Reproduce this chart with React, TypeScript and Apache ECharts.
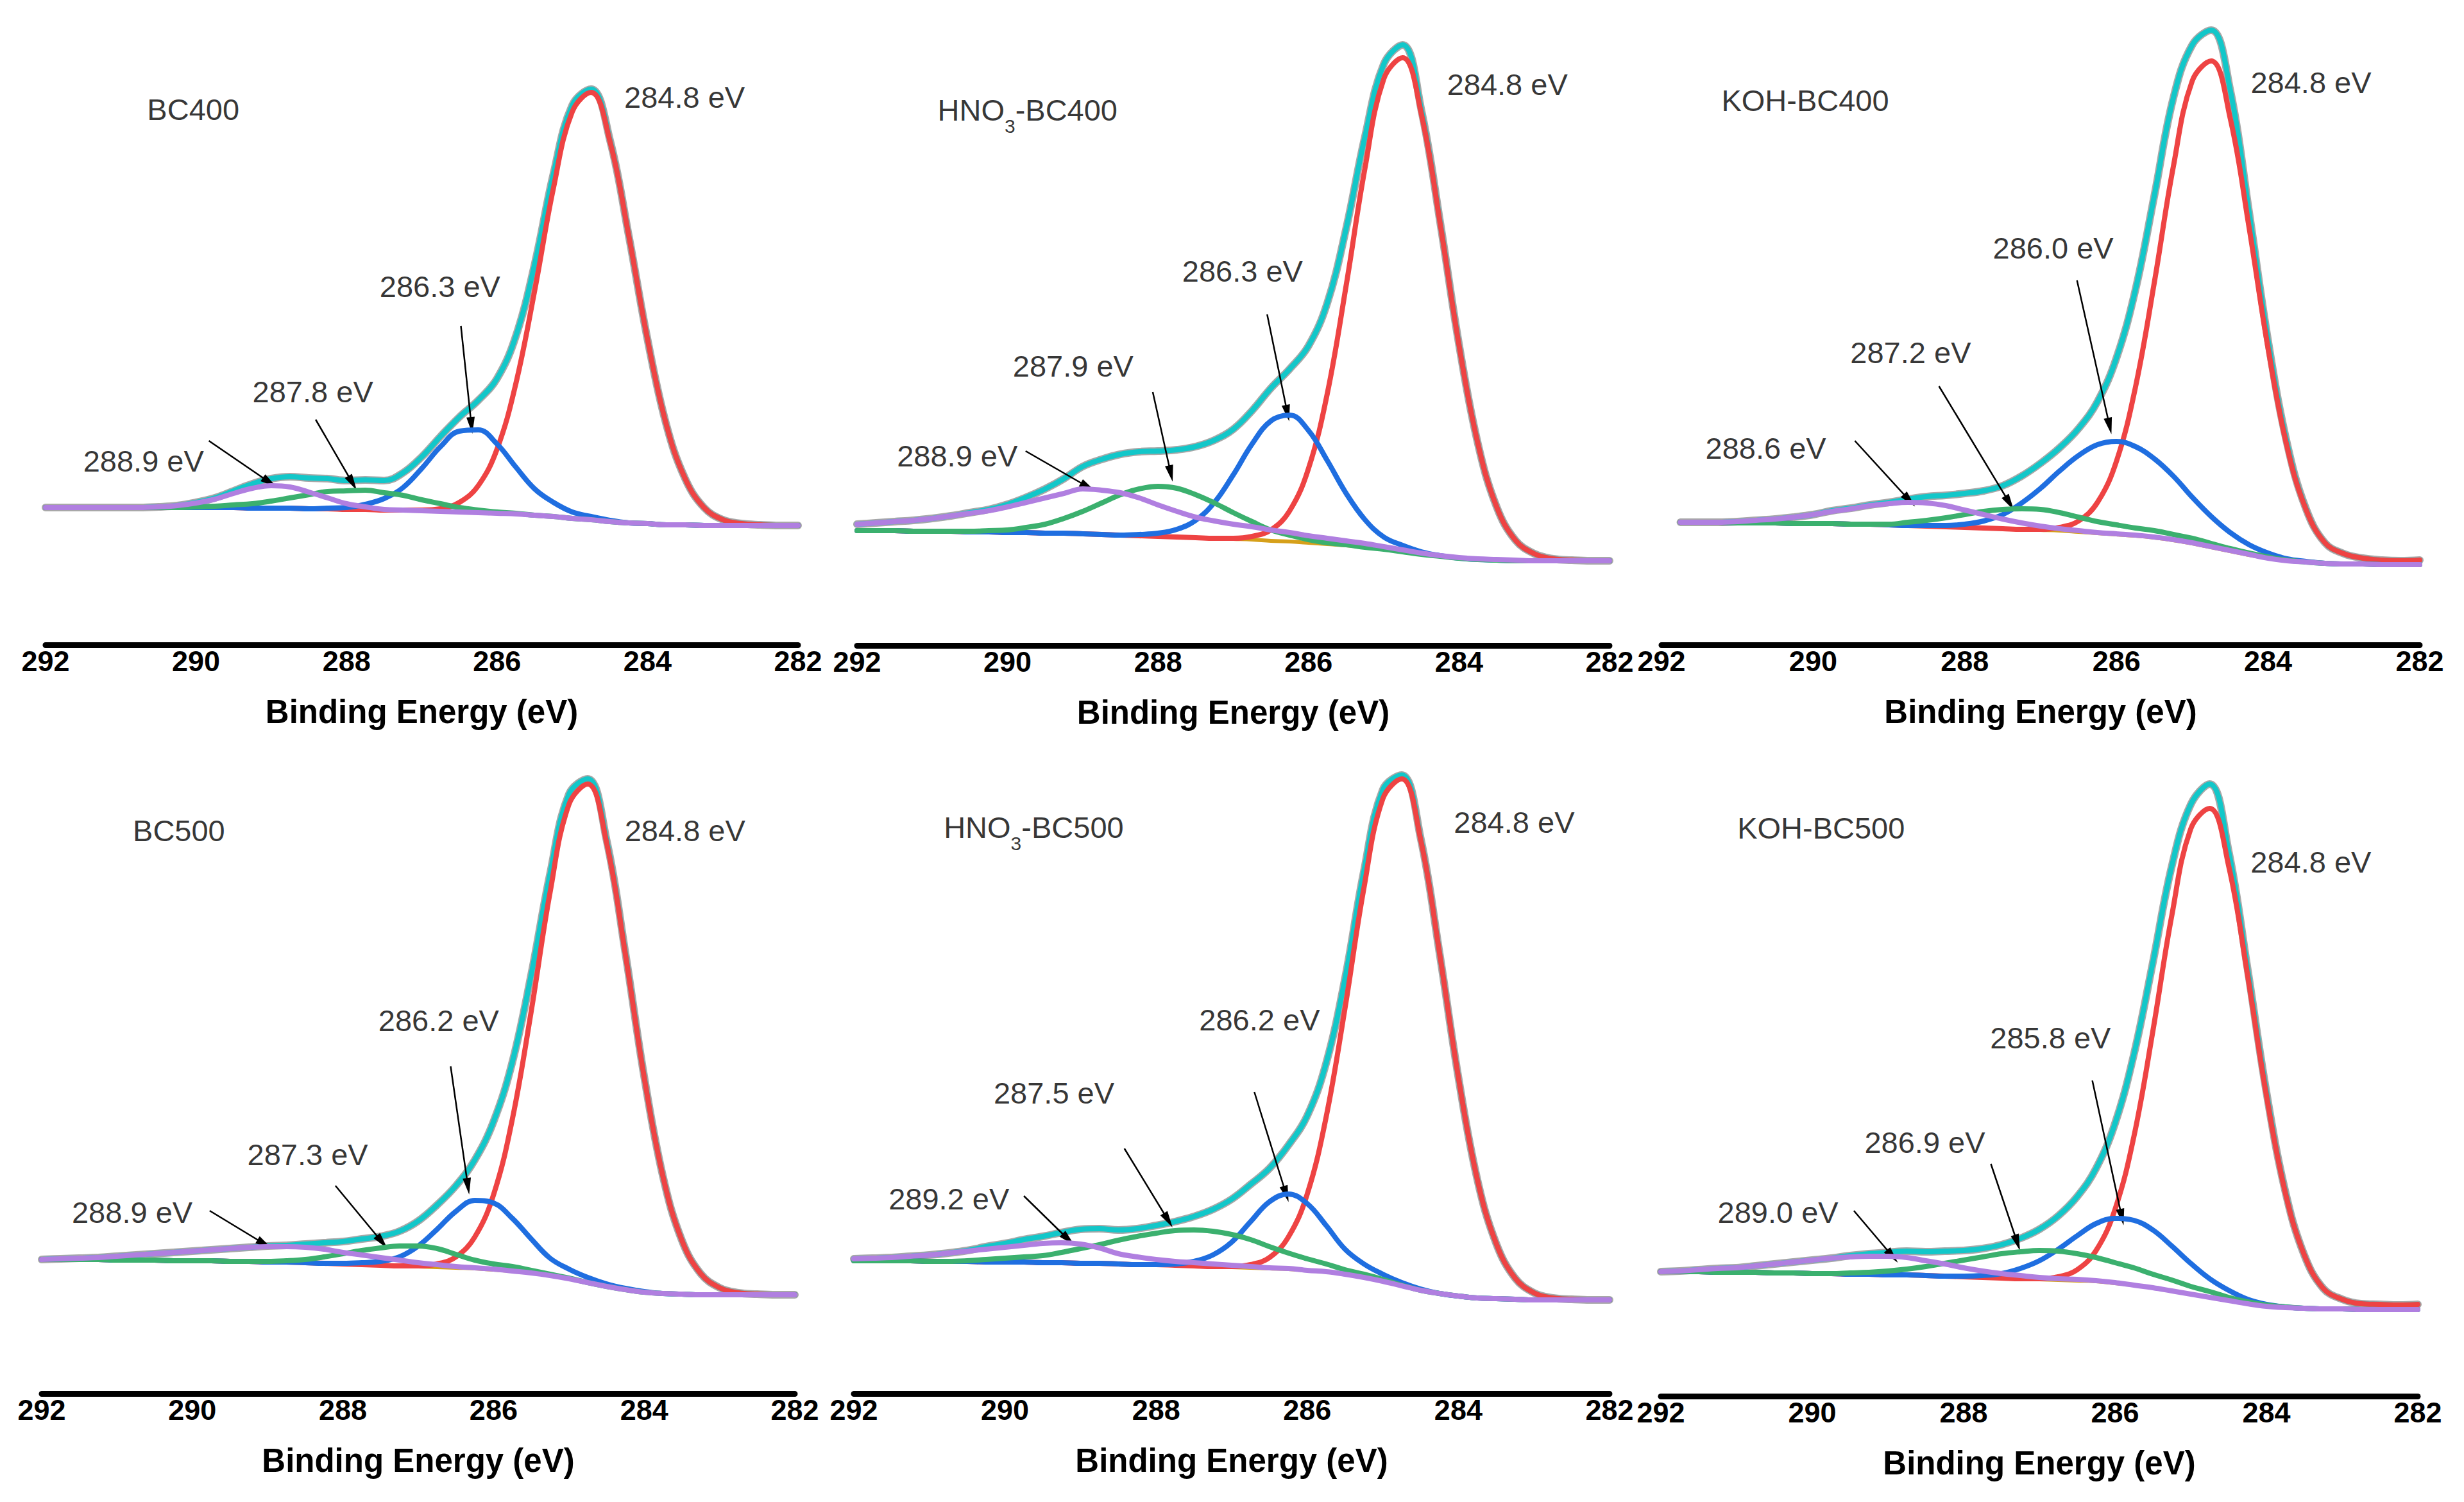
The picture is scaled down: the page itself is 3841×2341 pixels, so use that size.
import React, { useEffect, useRef } from "react";
import * as echarts from "echarts";

// Binding-energy grid (eV), shared by every panel
const energy = [292, 291.75, 291.5, 291.25, 291, 290.75, 290.5, 290.25, 290, 289.75, 289.5, 289.25, 289, 288.75, 288.5, 288.25, 288, 287.75, 287.5, 287.25, 287, 286.75, 286.5, 286.25, 286, 285.75, 285.5, 285.25, 285, 284.75, 284.5, 284.25, 284, 283.75, 283.5, 283.25, 283, 282.75, 282.5, 282.25, 282];
const tickValues = [292, 290, 288, 286, 284, 282];

// ---------- BC400 ----------
const bc400Baseline = [21.4, 21.4, 21.4, 21.4, 21.4, 21.4, 21.4, 21.4, 21.4, 21.4, 21.4, 21.3, 21.3, 21.3, 21.2, 21.2, 21.1, 21.1, 21.0, 21.0, 20.9, 20.8, 20.7, 20.6, 20.5, 20.4, 20.2, 20.0, 19.7, 19.5, 19.2, 19.0, 18.9, 18.7, 18.7, 18.6, 18.6, 18.6, 18.6, 18.6, 18.6];
const bc400Peak1 = [21.4, 21.4, 21.4, 21.4, 21.4, 21.4, 21.4, 21.4, 21.4, 21.4, 21.4, 21.3, 21.3, 21.3, 21.2, 21.2, 21.1, 21.1, 21.0, 21.0, 21.0, 21.2, 22.2, 24.8, 30.5, 40.7, 55.2, 71.2, 83.1, 86.1, 78.5, 63.8, 47.6, 34.3, 25.9, 21.4, 19.5, 18.9, 18.7, 18.6, 18.6];
const bc400Peak2 = [21.4, 21.4, 21.4, 21.4, 21.4, 21.4, 21.4, 21.4, 21.4, 21.4, 21.4, 21.3, 21.3, 21.3, 21.2, 21.3, 21.4, 21.9, 22.8, 24.5, 27.5, 30.9, 33.3, 33.5, 31.3, 27.7, 24.3, 22.2, 20.7, 20.0, 19.4, 19.0, 18.9, 18.7, 18.7, 18.6, 18.6, 18.6, 18.6, 18.6, 18.6];
const bc400Peak3 = [21.4, 21.4, 21.4, 21.4, 21.4, 21.4, 21.4, 21.4, 21.5, 21.6, 21.8, 22.0, 22.4, 22.9, 23.4, 23.9, 24.0, 24.1, 23.7, 23.3, 22.6, 22.0, 21.4, 21.0, 20.7, 20.5, 20.2, 20.0, 19.7, 19.5, 19.2, 19.0, 18.9, 18.7, 18.7, 18.6, 18.6, 18.6, 18.6, 18.6, 18.6];
const bc400Peak4 = [21.4, 21.4, 21.4, 21.4, 21.4, 21.4, 21.5, 21.7, 22.1, 22.7, 23.6, 24.4, 24.8, 24.6, 23.8, 22.9, 22.0, 21.5, 21.1, 21.0, 20.9, 20.8, 20.7, 20.6, 20.5, 20.4, 20.2, 20.0, 19.7, 19.5, 19.2, 19.0, 18.9, 18.7, 18.7, 18.6, 18.6, 18.6, 18.6, 18.6, 18.6];
const bc400Envelope = [21.4, 21.4, 21.4, 21.4, 21.4, 21.4, 21.5, 21.7, 22.2, 22.9, 24.0, 25.1, 25.9, 26.2, 26.0, 25.9, 25.6, 25.7, 25.6, 26.8, 29.3, 32.5, 35.5, 38.1, 41.5, 48.1, 59.3, 73.4, 84.1, 86.6, 78.7, 63.8, 47.6, 34.3, 25.9, 21.4, 19.5, 18.9, 18.7, 18.6, 18.6];
const bc400Labels = ["284.8 eV", "286.3 eV", "287.8 eV", "288.9 eV"];

// ---------- HNO3-BC400 ----------
const hno400Baseline = [17.9, 17.9, 17.9, 17.8, 17.8, 17.8, 17.7, 17.7, 17.6, 17.6, 17.5, 17.5, 17.4, 17.3, 17.2, 17.1, 17.0, 16.9, 16.8, 16.7, 16.6, 16.5, 16.3, 16.2, 16.0, 15.8, 15.6, 15.3, 15.0, 14.6, 14.2, 13.9, 13.6, 13.4, 13.3, 13.2, 13.2, 13.2, 13.2, 13.2, 13.2];
const hno400Peak1 = [17.9, 17.9, 17.9, 17.8, 17.8, 17.8, 17.7, 17.7, 17.6, 17.6, 17.5, 17.5, 17.4, 17.3, 17.2, 17.1, 17.0, 16.9, 16.8, 16.7, 16.7, 17.0, 18.0, 21.0, 27.6, 39.3, 56.1, 74.4, 88.3, 91.6, 82.8, 65.7, 46.8, 31.5, 21.6, 16.4, 14.3, 13.5, 13.3, 13.2, 13.2];
const hno400Peak2 = [17.9, 17.9, 17.9, 17.8, 17.8, 17.8, 17.7, 17.7, 17.6, 17.6, 17.5, 17.5, 17.4, 17.3, 17.2, 17.3, 17.5, 18.1, 19.5, 22.3, 26.6, 31.4, 35.0, 35.9, 33.5, 28.8, 23.7, 19.6, 16.9, 15.6, 14.6, 14.0, 13.6, 13.4, 13.3, 13.2, 13.2, 13.2, 13.2, 13.2, 13.2];
const hno400Peak3 = [17.9, 17.9, 17.9, 17.8, 17.8, 17.8, 17.8, 17.9, 18.0, 18.4, 18.9, 19.8, 20.9, 22.2, 23.5, 24.4, 24.8, 24.5, 23.5, 22.2, 20.7, 19.3, 18.0, 17.2, 16.5, 16.0, 15.7, 15.3, 15.0, 14.6, 14.2, 13.9, 13.6, 13.4, 13.3, 13.2, 13.2, 13.2, 13.2, 13.2, 13.2];
const hno400Peak4 = [18.9, 19.1, 19.3, 19.5, 19.8, 20.2, 20.6, 21.0, 21.6, 22.3, 23.0, 23.7, 24.4, 24.2, 23.8, 23.0, 21.9, 20.9, 20.0, 19.4, 18.9, 18.5, 18.0, 17.6, 17.1, 16.7, 16.3, 15.9, 15.4, 14.9, 14.4, 14.0, 13.7, 13.5, 13.4, 13.3, 13.2, 13.2, 13.2, 13.2, 13.2];
const hno400Envelope = [18.9, 19.1, 19.3, 19.5, 19.8, 20.2, 20.7, 21.2, 22.0, 23.1, 24.4, 26.0, 27.9, 29.0, 29.8, 30.2, 30.3, 30.5, 31.0, 32.0, 33.7, 36.6, 40.1, 43.1, 46.7, 53.4, 65.0, 79.3, 90.6, 93.6, 83.4, 65.9, 46.9, 31.5, 21.6, 16.4, 14.3, 13.5, 13.3, 13.2, 13.2];
const hno400Labels = ["284.8 eV", "286.3 eV", "287.9 eV", "288.9 eV"];

// ---------- KOH-BC400 (scan starts at 291.75 eV) ----------
const koh400Baseline = [null, 19.1, 19.1, 19.1, 19.0, 19.0, 19.0, 18.9, 18.9, 18.9, 18.8, 18.8, 18.7, 18.6, 18.5, 18.4, 18.3, 18.2, 18.1, 18.0, 17.9, 17.8, 17.6, 17.4, 17.2, 17.0, 16.7, 16.3, 15.8, 15.2, 14.6, 14.0, 13.5, 13.1, 12.9, 12.7, 12.6, 12.6, 12.5, 12.5, 12.5];
const koh400Peak1 = [null, 19.1, 19.1, 19.1, 19.0, 19.0, 19.0, 18.9, 18.9, 18.9, 18.8, 18.8, 18.7, 18.6, 18.5, 18.4, 18.3, 18.2, 18.1, 18.0, 18.0, 18.3, 19.3, 22.2, 28.6, 40.1, 56.5, 74.5, 87.9, 91.0, 82.1, 65.0, 46.2, 30.9, 21.1, 15.9, 14.2, 13.5, 13.2, 13.1, 13.2];
const koh400Peak2 = [null, 19.1, 19.1, 19.1, 19.0, 19.0, 19.0, 18.9, 18.9, 18.9, 18.8, 18.8, 18.7, 18.6, 18.6, 18.6, 18.8, 19.3, 20.3, 22.1, 24.4, 27.1, 29.5, 31.2, 31.7, 30.9, 29.0, 26.3, 23.0, 20.0, 17.5, 15.6, 14.3, 13.4, 13.0, 12.7, 12.6, 12.6, 12.5, 12.5, 12.5];
const koh400Peak3 = [null, 19.1, 19.1, 19.1, 19.0, 19.0, 19.0, 18.9, 18.9, 18.9, 18.8, 18.8, 18.8, 19.1, 19.4, 19.8, 20.3, 20.8, 21.1, 21.2, 21.1, 20.6, 19.9, 19.2, 18.7, 18.2, 17.8, 17.2, 16.6, 15.8, 15.0, 14.3, 13.7, 13.2, 12.9, 12.7, 12.6, 12.6, 12.5, 12.5, 12.5];
const koh400Peak4 = [null, 19.1, 19.1, 19.1, 19.2, 19.4, 19.6, 19.9, 20.3, 20.8, 21.2, 21.7, 22.0, 22.2, 22.1, 21.7, 21.0, 20.3, 19.6, 19.0, 18.5, 18.1, 17.8, 17.5, 17.3, 17.1, 16.8, 16.4, 15.9, 15.3, 14.7, 14.1, 13.5, 13.1, 12.9, 12.7, 12.6, 12.6, 12.5, 12.5, 12.5];
const koh400Envelope = [null, 19.1, 19.1, 19.1, 19.2, 19.4, 19.6, 19.9, 20.3, 20.9, 21.3, 21.8, 22.2, 22.7, 23.1, 23.3, 23.6, 24.0, 24.8, 26.3, 28.3, 30.7, 33.7, 37.9, 44.7, 55.3, 70.0, 85.2, 93.5, 95.8, 86.5, 67.4, 47.4, 31.4, 21.2, 15.9, 14.2, 13.5, 13.2, 13.1, 13.2];
const koh400Labels = ["284.8 eV", "286.0 eV", "287.2 eV", "288.6 eV"];

// ---------- BC500 ----------
const bc500Baseline = [20.9, 20.9, 20.9, 20.9, 20.8, 20.8, 20.8, 20.7, 20.7, 20.7, 20.6, 20.6, 20.5, 20.5, 20.4, 20.3, 20.2, 20.1, 20.0, 19.9, 19.8, 19.7, 19.6, 19.5, 19.3, 19.1, 18.8, 18.4, 17.9, 17.3, 16.7, 16.2, 15.8, 15.6, 15.5, 15.4, 15.4, 15.4, 15.4, 15.4, 15.4];
const bc500Peak1 = [20.9, 20.9, 20.9, 20.9, 20.8, 20.8, 20.8, 20.7, 20.7, 20.7, 20.6, 20.6, 20.5, 20.5, 20.4, 20.3, 20.2, 20.1, 20.0, 19.9, 19.9, 20.2, 21.3, 24.4, 31.0, 42.8, 59.6, 78.1, 91.8, 95.0, 85.9, 68.5, 49.3, 33.8, 23.9, 18.7, 16.5, 15.7, 15.5, 15.4, 15.4];
const bc500Peak2 = [20.9, 20.9, 20.9, 20.9, 20.8, 20.8, 20.8, 20.7, 20.7, 20.7, 20.6, 20.6, 20.5, 20.5, 20.4, 20.3, 20.3, 20.4, 20.6, 21.3, 23.0, 25.6, 28.4, 30.1, 29.7, 27.3, 24.1, 21.1, 19.4, 18.1, 17.1, 16.4, 15.9, 15.6, 15.5, 15.4, 15.4, 15.4, 15.4, 15.4, 15.4];
const bc500Peak3 = [20.9, 20.9, 20.9, 20.9, 20.8, 20.8, 20.8, 20.7, 20.7, 20.7, 20.6, 20.6, 20.6, 20.7, 20.9, 21.3, 21.8, 22.3, 22.7, 23.0, 23.0, 22.6, 21.7, 20.8, 20.2, 19.8, 19.2, 18.6, 18.0, 17.3, 16.7, 16.2, 15.8, 15.6, 15.5, 15.4, 15.4, 15.4, 15.4, 15.4, 15.4];
const bc500Peak4 = [20.9, 21.0, 21.1, 21.2, 21.4, 21.6, 21.8, 22.0, 22.2, 22.4, 22.6, 22.8, 22.9, 22.9, 22.8, 22.5, 22.0, 21.6, 21.2, 20.8, 20.4, 20.1, 19.8, 19.6, 19.4, 19.1, 18.8, 18.4, 17.9, 17.3, 16.7, 16.2, 15.8, 15.6, 15.5, 15.4, 15.4, 15.4, 15.4, 15.4, 15.4];
const bc500Envelope = [20.9, 21.0, 21.1, 21.2, 21.4, 21.6, 21.8, 22.0, 22.2, 22.4, 22.6, 22.8, 23.0, 23.1, 23.3, 23.5, 23.7, 24.1, 24.5, 25.3, 26.9, 29.4, 32.4, 36.4, 42.4, 51.7, 65.3, 81.0, 93.4, 95.8, 86.3, 68.7, 49.4, 33.8, 23.9, 18.7, 16.5, 15.7, 15.5, 15.4, 15.4];
const bc500Labels = ["284.8 eV", "286.2 eV", "287.3 eV", "288.9 eV"];

// ---------- HNO3-BC500 ----------
const hno500Baseline = [20.7, 20.7, 20.7, 20.7, 20.6, 20.6, 20.6, 20.5, 20.5, 20.5, 20.4, 20.4, 20.3, 20.3, 20.2, 20.1, 20.1, 20.0, 19.9, 19.8, 19.7, 19.6, 19.5, 19.4, 19.2, 19.0, 18.6, 18.1, 17.5, 16.8, 16.1, 15.6, 15.2, 14.9, 14.8, 14.7, 14.6, 14.6, 14.6, 14.6, 14.6];
const hno500Peak1 = [20.7, 20.7, 20.7, 20.7, 20.6, 20.6, 20.6, 20.5, 20.5, 20.5, 20.4, 20.4, 20.3, 20.3, 20.2, 20.1, 20.1, 20.0, 19.9, 19.8, 19.8, 20.1, 21.2, 24.4, 31.1, 43.1, 60.1, 78.8, 92.7, 95.8, 86.4, 68.7, 49.3, 33.4, 23.4, 18.0, 15.7, 14.9, 14.7, 14.6, 14.6];
const hno500Peak2 = [20.7, 20.7, 20.7, 20.7, 20.6, 20.6, 20.6, 20.5, 20.5, 20.5, 20.4, 20.4, 20.3, 20.3, 20.2, 20.1, 20.1, 20.2, 20.6, 21.6, 23.6, 26.8, 29.9, 31.1, 29.6, 26.2, 22.5, 20.2, 18.6, 17.3, 16.3, 15.6, 15.2, 14.9, 14.8, 14.7, 14.6, 14.6, 14.6, 14.6, 14.6];
const hno500Peak3 = [20.7, 20.7, 20.7, 20.7, 20.6, 20.6, 20.7, 20.9, 21.1, 21.3, 21.5, 22.0, 22.6, 23.2, 23.9, 24.5, 25.0, 25.4, 25.5, 25.3, 24.8, 24.0, 22.9, 21.9, 21.0, 20.2, 19.3, 18.6, 17.8, 16.9, 16.1, 15.6, 15.2, 14.9, 14.8, 14.7, 14.6, 14.6, 14.6, 14.6, 14.6];
const hno500Peak4 = [21.0, 21.1, 21.2, 21.4, 21.6, 21.9, 22.2, 22.5, 22.8, 23.1, 23.4, 23.5, 23.3, 22.7, 21.8, 21.3, 20.9, 20.6, 20.4, 20.2, 20.0, 19.8, 19.6, 19.5, 19.2, 19.0, 18.6, 18.1, 17.5, 16.8, 16.1, 15.6, 15.2, 14.9, 14.8, 14.7, 14.6, 14.6, 14.6, 14.6, 14.6];
const hno500Envelope = [21.0, 21.1, 21.2, 21.4, 21.6, 21.9, 22.3, 22.9, 23.4, 24.0, 24.5, 25.1, 25.6, 25.7, 25.5, 25.7, 26.2, 26.8, 27.6, 28.7, 30.3, 32.6, 35.1, 38.7, 43.3, 51.5, 64.7, 81.4, 94.1, 96.4, 86.6, 68.7, 49.3, 33.4, 23.4, 18.0, 15.7, 14.9, 14.7, 14.6, 14.6];
const hno500Labels = ["284.8 eV", "286.2 eV", "287.5 eV", "289.2 eV"];

// ---------- KOH-BC500 ----------
const koh500Baseline = [19.4, 19.4, 19.4, 19.3, 19.3, 19.3, 19.2, 19.2, 19.1, 19.1, 19.0, 19.0, 18.9, 18.9, 18.8, 18.7, 18.6, 18.5, 18.4, 18.3, 18.2, 18.1, 18.0, 17.9, 17.6, 17.3, 16.9, 16.4, 15.9, 15.4, 14.9, 14.4, 14.0, 13.8, 13.7, 13.6, 13.6, 13.5, 13.5, 13.5, 13.5];
const koh500Peak1 = [19.4, 19.4, 19.4, 19.3, 19.3, 19.3, 19.2, 19.2, 19.1, 19.1, 19.0, 19.0, 18.9, 18.9, 18.8, 18.7, 18.6, 18.5, 18.4, 18.3, 18.3, 18.6, 19.7, 22.7, 29.1, 40.5, 56.9, 74.9, 88.4, 91.6, 82.7, 65.7, 46.9, 31.7, 22.0, 16.8, 15.1, 14.4, 14.3, 14.2, 14.3];
const koh500Peak2 = [19.4, 19.4, 19.4, 19.3, 19.3, 19.3, 19.2, 19.2, 19.1, 19.1, 19.0, 19.0, 18.9, 18.9, 18.8, 18.7, 18.7, 18.8, 19.1, 19.9, 21.1, 22.9, 25.0, 26.9, 27.7, 27.4, 25.9, 23.4, 20.7, 18.3, 16.5, 15.1, 14.3, 13.9, 13.7, 13.6, 13.6, 13.5, 13.5, 13.5, 13.5];
const koh500Peak3 = [19.4, 19.4, 19.4, 19.3, 19.3, 19.3, 19.2, 19.2, 19.1, 19.1, 19.2, 19.3, 19.5, 19.8, 20.2, 20.7, 21.2, 21.7, 22.2, 22.5, 22.7, 22.6, 22.2, 21.6, 20.8, 20.0, 19.0, 18.1, 17.1, 16.3, 15.4, 14.7, 14.2, 13.9, 13.7, 13.6, 13.6, 13.5, 13.5, 13.5, 13.5];
const koh500Peak4 = [19.4, 19.5, 19.7, 19.9, 20.0, 20.3, 20.6, 20.9, 21.2, 21.5, 21.7, 21.8, 21.8, 21.6, 21.1, 20.6, 20.0, 19.5, 19.1, 18.8, 18.5, 18.3, 18.2, 18.0, 17.7, 17.3, 16.9, 16.4, 15.9, 15.4, 14.9, 14.4, 14.0, 13.8, 13.7, 13.6, 13.6, 13.5, 13.5, 13.5, 13.5];
const koh500Envelope = [19.4, 19.5, 19.7, 19.9, 20.0, 20.3, 20.6, 20.9, 21.2, 21.5, 21.9, 22.2, 22.4, 22.6, 22.5, 22.6, 22.7, 23.0, 23.6, 24.6, 26.0, 28.1, 31.1, 35.5, 42.5, 53.3, 67.6, 82.6, 92.2, 95.4, 85.0, 66.7, 47.4, 31.9, 22.0, 16.8, 15.1, 14.4, 14.3, 14.2, 14.3];
const koh500Labels = ["284.8 eV", "285.8 eV", "286.9 eV", "289.0 eV"];

// ---------- annotation placement (data coordinates) ----------
const PANELS = [
  {
    title: "{m|BC400}", base: bc400Baseline, p1: bc400Peak1, p2: bc400Peak2, p3: bc400Peak3, p4: bc400Peak4, env: bc400Envelope, labels: bc400Labels,
    titleAt: [290.65, 83.5], labelAt: [[284.31, 85.4], [287.56, 55.9], [289.25, 39.5], [291.5, 28.7]],
    arrows: [[286.48, 49.7, 286.34, 34.2], [288.41, 35.1, 287.92, 25.2], [289.83, 31.8, 289.02, 25.3]],
    box: { left: 71, top: 5, width: 1173 },
  },
  {
    title: "{m|HNO}{s|3}{m|-BC400}", base: hno400Baseline, p1: hno400Peak1, p2: hno400Peak2, p3: hno400Peak3, p4: hno400Peak4, env: hno400Envelope, labels: hno400Labels,
    titleAt: [290.93, 83.5], labelAt: [[284.16, 87.5], [287.68, 58.4], [289.93, 43.6], [291.47, 29.6]],
    arrows: [[286.55, 51.6, 286.28, 36.2], [288.07, 39.5, 287.83, 26.8], [289.76, 30.3, 288.93, 24.7]],
    box: { left: 1336, top: 6, width: 1173 },
  },
  {
    title: "{m|KOH-BC400}", base: koh400Baseline, p1: koh400Peak1, p2: koh400Peak2, p3: koh400Peak3, p4: koh400Peak4, env: koh400Envelope, labels: koh400Labels,
    titleAt: [291.21, 84.9], labelAt: [[284.23, 87.7], [287.63, 61.9], [289.51, 45.6], [291.42, 30.7]],
    arrows: [[286.52, 56.8, 286.09, 34.1], [288.34, 40.3, 287.41, 22.1], [289.45, 31.8, 288.73, 22.5]],
    box: { left: 2590, top: 5, width: 1182 },
  },
  {
    title: "{m|BC500}", base: bc500Baseline, p1: bc500Peak1, p2: bc500Peak2, p3: bc500Peak3, p4: bc500Peak4, env: bc500Envelope, labels: bc500Labels,
    titleAt: [290.79, 87.8], labelAt: [[284.26, 87.8], [287.53, 58.2], [289.27, 37.3], [291.6, 28.3]],
    arrows: [[286.57, 51.0, 286.34, 32.3], [288.1, 32.4, 287.48, 23.6], [289.77, 28.5, 289.04, 23.3]],
    box: { left: 65, top: 1172, width: 1174 },
  },
  {
    title: "{m|HNO}{s|3}{m|-BC500}", base: hno500Baseline, p1: hno500Peak1, p2: hno500Peak2, p3: hno500Peak3, p4: hno500Peak4, env: hno500Envelope, labels: hno500Labels,
    titleAt: [290.81, 88.3], labelAt: [[284.06, 89.1], [287.43, 58.3], [290.15, 46.9], [291.54, 30.4]],
    arrows: [[286.7, 47.0, 286.28, 31.1], [288.42, 38.2, 287.84, 27.0], [289.75, 30.8, 289.16, 24.0]],
    box: { left: 1331, top: 1172, width: 1178 },
  },
  {
    title: "{m|KOH-BC500}", base: koh500Baseline, p1: koh500Peak1, p2: koh500Peak2, p3: koh500Peak3, p4: koh500Peak4, env: koh500Envelope, labels: koh500Labels,
    titleAt: [290.99, 88.6], labelAt: [[284.21, 83.3], [287.65, 55.9], [289.31, 39.6], [291.25, 28.7]],
    arrows: [[286.3, 49.2, 285.91, 27.9], [287.64, 36.2, 287.29, 23.9], [289.45, 28.9, 288.94, 21.8]],
    box: { left: 2589, top: 1176, width: 1180 },
  },
];

const FONT = '"Liberation Sans", Arial, Helvetica, sans-serif';
const COLORS = {
  raw: "#a8a8a8",
  envelope: "#12c7c9",
  baseline: "#d6a01a",
  p1: "#ee4343",
  p2: "#1f6ee0",
  p3: "#3bb06e",
  p4: "#b07fe0",
};
const ARROW = "path://M5,0L10,24L0,24Z";

function lineSeries(gi: number, values: (number | null)[], color: string, width: number, z: number) {
  const data = energy.map((e, k) => [e, values[k]]).filter((d) => d[1] !== null && d[1] !== undefined);
  return {
    type: "line",
    xAxisIndex: gi,
    yAxisIndex: gi,
    data,
    showSymbol: false,
    symbol: "none",
    smooth: 0.4,
    silent: true,
    clip: false,
    z,
    lineStyle: { color, width, cap: "round", join: "round" },
    itemStyle: { color },
    emphasis: { disabled: true },
  };
}

function buildOption() {
  const grid: any[] = [];
  const xAxis: any[] = [];
  const yAxis: any[] = [];
  const series: any[] = [];
  PANELS.forEach((p, gi) => {
    grid.push({ left: p.box.left, top: p.box.top, width: p.box.width, height: 1000, outerBoundsMode: "none", containLabel: false });
    xAxis.push({
      gridIndex: gi,
      type: "value",
      min: tickValues[tickValues.length - 1],
      max: tickValues[0],
      interval: 2,
      inverse: true,
      name: "Binding Energy (eV)",
      nameLocation: "middle",
      nameGap: 79,
      nameTextStyle: { fontFamily: FONT, fontSize: 51, fontWeight: "bold", color: "#000" },
      axisLine: { show: true, onZero: false, lineStyle: { color: "#000", width: 9 } },
      axisTick: { show: false },
      splitLine: { show: false },
      axisLabel: { fontFamily: FONT, fontSize: 45, fontWeight: "bold", color: "#000", margin: 3 },
    });
    yAxis.push({ gridIndex: gi, type: "value", min: 0, max: 100, show: false, splitLine: { show: false } });

    series.push(lineSeries(gi, p.env, COLORS.raw, 12, 1));
    series.push(lineSeries(gi, p.env, COLORS.envelope, 8, 2));
    series.push(lineSeries(gi, p.base, COLORS.baseline, 6, 3));
    series.push(lineSeries(gi, p.p1, COLORS.p1, 8, 4));
    series.push(lineSeries(gi, p.p2, COLORS.p2, 8, 5));
    series.push(lineSeries(gi, p.p3, COLORS.p3, 8, 6));
    series.push(lineSeries(gi, p.p4, COLORS.p4, 8, 7));

    const labelItems: any[] = [
      { value: p.titleAt, label: { formatter: p.title } },
      ...p.labels.map((t, k) => ({ value: p.labelAt[k], label: { formatter: `{m|${t}}` } })),
    ];
    series.push({
      type: "scatter",
      xAxisIndex: gi,
      yAxisIndex: gi,
      symbolSize: 0,
      silent: true,
      z: 20,
      data: labelItems,
      label: {
        show: true,
        position: "right",
        distance: 0,
        color: "#000",
        fontFamily: FONT,
        fontSize: 47,
        rich: {
          m: { fontFamily: FONT, fontSize: 47, color: "#000", lineHeight: 80 },
          s: { fontFamily: FONT, fontSize: 30, color: "#000", lineHeight: 30, verticalAlign: "bottom" },
        },
      },
      emphasis: { disabled: true },
      markLine: {
        silent: true,
        animation: false,
        symbol: ["none", ARROW],
        symbolSize: [1, 24],
        label: { show: false },
        emphasis: { disabled: true },
        lineStyle: { color: "#000", width: 2.5, type: "solid" },
        data: p.arrows.map((a) => [
          { coord: [a[0], a[1]], symbol: "none" },
          { coord: [a[2], a[3]], symbol: ARROW, symbolSize: [13, 26] },
        ]),
      },
    });
  });
  return { animation: false, backgroundColor: "#ffffff", grid, xAxis, yAxis, series };
}

export default function App() {
  const ref = useRef<HTMLDivElement>(null);
  useEffect(() => {
    document.body.style.margin = "0";
    document.body.style.overflow = "hidden";
    const chart = echarts.init(ref.current as HTMLDivElement, null, { renderer: "svg" });
    chart.setOption(buildOption() as any);
    return () => chart.dispose();
  }, []);
  return <div ref={ref} style={{ width: 3841, height: 2341, background: "#fff" }} />;
}
